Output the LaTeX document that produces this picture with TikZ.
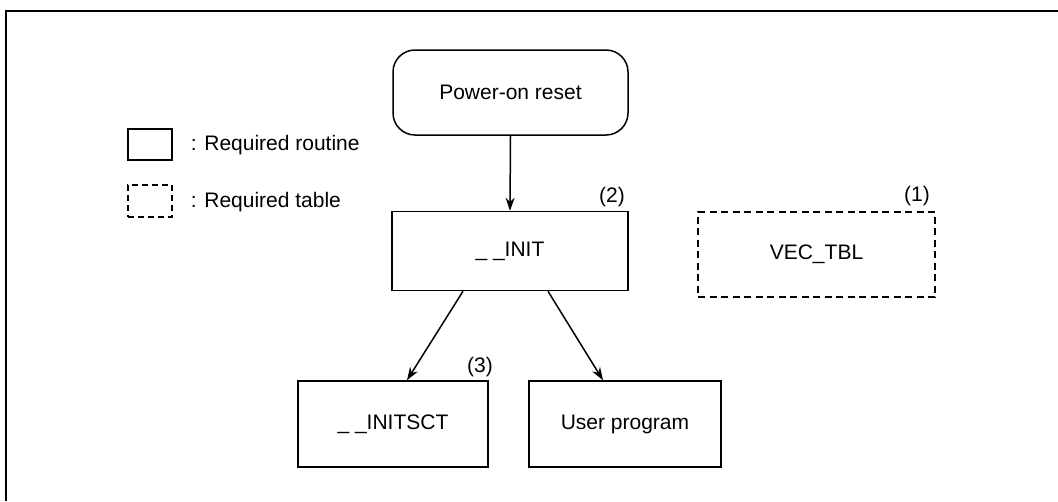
\documentclass[tikz,border=0pt]{standalone}
\usepackage{fontspec}
\setmainfont{Liberation Sans}
\usetikzlibrary{arrows.meta}
\begin{document}
\begin{tikzpicture}[x=1pt,y=-1pt,line width=1.5pt,
  txt/.style={font=\fontsize{21}{25}\selectfont},
  routine/.style={draw,txt,inner sep=0pt},
  tablebox/.style={draw,txt,inner sep=0pt,dash pattern=on 7pt off 4.5pt},
  lbl/.style={txt,inner sep=0pt},
  arr/.style={-{Stealth[length=13pt,width=9pt]}}]
\useasboundingbox (0,0) rectangle (1058,501);
\coordinate (fbl) at (6,501);
\coordinate (ftl) at (6,11);
\coordinate (ftr) at (1058,11);
\draw (fbl) -- (ftl) -- (ftr);
% legend
\node[routine,minimum width=44pt,minimum height=31pt] (leg1) at (150,144.5) {};
\node[lbl,anchor=west] (leg1t) at (190,145) {: Required routine};
\node[tablebox,dash pattern=on 6pt off 4pt,minimum width=44pt,minimum height=32pt] (leg2) at (150,201) {};
\node[lbl,anchor=west] (leg2t) at (190,202) {: Required table};
% main nodes
\node[routine,rounded corners=22pt,minimum width=235pt,minimum height=85pt] (pwr) at (510.5,92.5) {Power-on reset};
\node[routine,minimum width=236pt,minimum height=79pt] (init) at (510,251) {\_ \_INIT};
\node[tablebox,minimum width=237pt,minimum height=85pt] (vec) at (816.5,254.5) {VEC\_TBL};
\node[routine,minimum width=190pt,minimum height=86pt] (sct) at (393,424) {\_ \_INITSCT};
\node[routine,minimum width=192pt,minimum height=86pt] (usr) at (625,424) {User program};
% labels
\node[lbl] (n2) at (612,197) {(2)};
\node[lbl] (n1) at (917,196) {(1)};
\node[lbl] (n3) at (480,367) {(3)};
% connectors
\draw[arr] (pwr.south) -- (init.north);
\draw[arr] ([xshift=-47pt]init.south) -- ([xshift=14pt]sct.north);
\draw[arr] ([xshift=38pt]init.south) -- ([xshift=-22pt]usr.north);
\end{tikzpicture}
\end{document}
